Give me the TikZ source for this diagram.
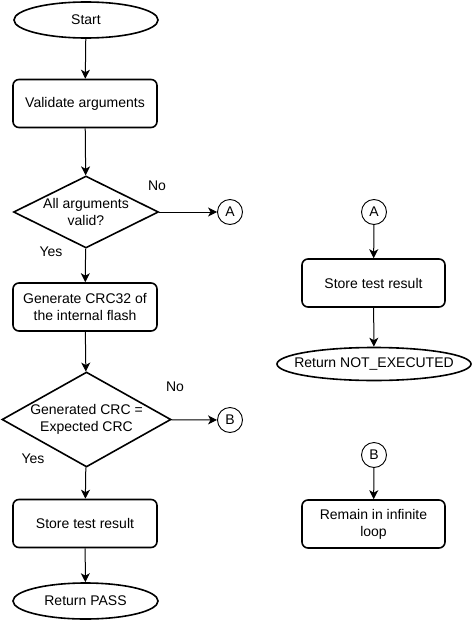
\documentclass[tikz,border=0pt]{standalone}
\usepackage{fontspec}
\setmainfont{Liberation Sans}
\usetikzlibrary{shapes.geometric,arrows.meta}
\begin{document}
\begin{tikzpicture}[x=1pt,y=-1pt,
  font=\fontsize{14}{17}\selectfont,
  proc/.style={draw,line width=1.6pt,rounded corners=6pt,minimum width=144pt,minimum height=48pt,inner sep=0pt,align=center},
  term/.style={draw,ellipse,line width=1.6pt,minimum width=144pt,minimum height=36pt,inner sep=0pt},
  dec/.style={draw,diamond,line width=1.6pt,inner sep=0pt},
  conn/.style={draw,circle,line width=0.9pt,minimum size=25pt,inner sep=0pt},
  arr/.style={line width=1pt,-{Stealth[length=9pt,width=9pt,inset=2.5pt]}},
  lbl/.style={inner sep=0pt}
]
\useasboundingbox (0,0) rectangle (472,621);
% left column
\node[term,label=center:Start] (start) at (86,20) {};
\node[proc] (valid) at (85,103.5) {Validate arguments};
\node[dec,minimum width=145pt,minimum height=72pt,label={[align=center]center:All arguments\\valid?}] (d1) at (86,212) {};
\node[conn] (ca) at (230,212) {A};
\node[proc] (gen) at (85,307) {Generate CRC32 of\\the internal flash};
\node[dec,minimum width=169pt,minimum height=95pt,label={[align=center]center:Generated CRC =\\Expected CRC}] (d2) at (86.5,419.5) {};
\node[conn] (cb) at (230,420) {B};
\node[proc] (store) at (85,523.5) {Store test result};
\node[term,minimum width=145pt,label=center:Return PASS] (pass) at (85.5,601) {};
% labels
\node[lbl] (no1) at (157,186) {No};
\node[lbl] (yes1) at (51,252) {Yes};
\node[lbl] (no2) at (175,387) {No};
\node[lbl] (yes2) at (33,459) {Yes};
% right column
\node[conn] (ca2) at (374,212) {A};
\node[proc,minimum width=143pt] (store2) at (373.5,283) {Store test result};
\node[term,minimum width=194pt,minimum height=33pt,label=center:Return NOT\_EXECUTED] (notex) at (374,364) {};
\node[conn] (cb2) at (374,455) {B};
\node[proc,minimum width=143pt] (remain) at (373.5,524) {Remain in infinite\\loop};
% connectors
\draw[arr] (start) -- (valid);
\draw[arr] (valid) -- (d1);
\draw[arr] (d1) -- (ca);
\draw[arr] (d1) -- (gen);
\draw[arr] (gen) -- (d2);
\draw[arr] (d2) -- (cb);
\draw[arr] (d2) -- (store);
\draw[arr] (store) -- (pass);
\draw[arr] (ca2) -- (store2);
\draw[arr] (store2) -- (notex);
\draw[arr] (cb2) -- (remain);
\end{tikzpicture}
\end{document}
